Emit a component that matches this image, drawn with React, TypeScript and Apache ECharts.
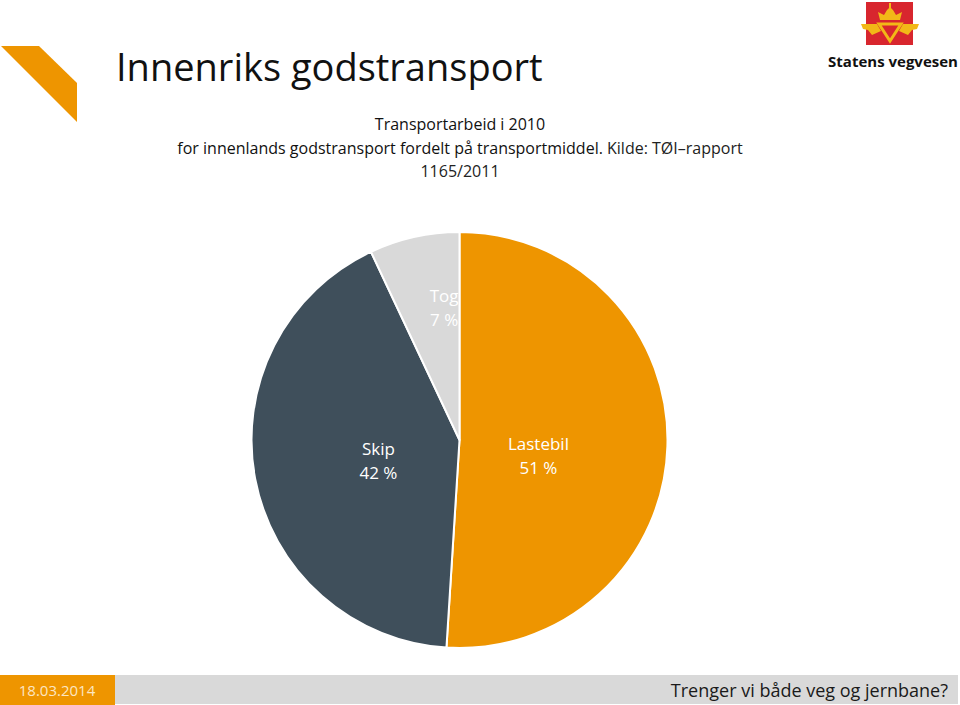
import React, { useEffect, useRef } from "react";
import * as echarts from "echarts";

const categories = ["Lastebil", "Skip", "Tog"];
const shares = [51, 42, 7];
const sliceColors = ["#EE9500", "#3F4F5B", "#D9D9D9"];
const labelOffsets: [number, number][] = [[-28, 12], [24, 0], [8, -28]];

const titleText = "Innenriks godstransport";
const subLine1 = "Transportarbeid i 2010";
const subLine2Bold = "for innenlands godstransport fordelt på transportmiddel.";
const subLine2Rest = " Kilde: TØI–rapport";
const subLine3 = "1165/2011";
const footerDate = "18.03.2014";
const footerText = "Trenger vi både veg og jernbane?";
const brandText = "Statens vegvesen";

const FONT = "'Open Sans', 'DejaVu Sans', sans-serif";

export default function App() {
  const ref = useRef<HTMLDivElement>(null);
  useEffect(() => {
    if (!ref.current) return;
    const chart = echarts.init(ref.current, null, { renderer: "svg" });
    const gold = "#F2B817";
    chart.setOption({
      animation: false,
      backgroundColor: "#ffffff",
      title: [
        {
          text: titleText,
          left: 111,
          top: 42,
          textStyle: { fontFamily: FONT, fontSize: 38, fontWeight: "normal", color: "#111" },
        },
      ],
      graphic: [
        {
          type: "polygon",
          shape: { points: [[1, 46], [39, 46], [77, 83], [77, 122]] },
          style: { fill: "#EE9500" },
        },
        {
          type: "text",
          x: 460,
          y: 124,
          style: {
            text: subLine1,
            fontFamily: FONT,
            fontSize: 16,
            fontWeight: 500,
            fill: "#111",
            align: "center",
            verticalAlign: "middle",
          },
        },
        {
          type: "text",
          x: 460,
          y: 148,
          style: {
            text: "{b|" + subLine2Bold + "}{r|" + subLine2Rest + "}",
            align: "center",
            verticalAlign: "middle",
            rich: {
              b: { fontFamily: FONT, fontSize: 16, fontWeight: 500, fill: "#111" },
              r: { fontFamily: FONT, fontSize: 16, fontWeight: "normal", fill: "#222" },
            },
          },
        },
        {
          type: "text",
          x: 460,
          y: 171,
          style: {
            text: subLine3,
            fontFamily: FONT,
            fontSize: 16,
            fill: "#222",
            align: "center",
            verticalAlign: "middle",
          },
        },
        {
          type: "group",
          children: [
            { type: "rect", shape: { x: 866, y: 2, width: 47, height: 43 }, style: { fill: "#D8262E" } },
            {
              type: "polygon",
              shape: { points: [[880, 20], [878, 12], [884, 15], [887, 10], [890, 7], [893, 10], [896, 15], [902, 12], [900, 20]] },
              style: { fill: gold },
            },
            { type: "rect", shape: { x: 889, y: 3, width: 2, height: 5 }, style: { fill: gold } },
            {
              type: "polygon",
              shape: { points: [[879, 24], [901, 24], [890, 41]] },
              style: { fill: "none", stroke: gold, lineWidth: 3 },
            },
            {
              type: "polygon",
              shape: { points: [[861, 24], [877, 24], [881, 31], [872, 35], [868, 30], [863, 29]] },
              style: { fill: gold },
            },
            {
              type: "polygon",
              shape: { points: [[919, 24], [903, 24], [899, 31], [908, 35], [912, 30], [917, 29]] },
              style: { fill: gold },
            },
          ],
        },
        {
          type: "text",
          x: 893,
          y: 61,
          style: {
            text: brandText,
            fontFamily: FONT,
            fontSize: 15,
            fontWeight: "bold",
            fill: "#111",
            align: "center",
            verticalAlign: "middle",
          },
        },
        { type: "rect", shape: { x: 0, y: 675, width: 115, height: 30 }, style: { fill: "#EE9500" } },
        { type: "rect", shape: { x: 115, y: 675, width: 843, height: 29 }, style: { fill: "#D9D9D9" } },
        {
          type: "text",
          x: 57,
          y: 690,
          style: {
            text: footerDate,
            fontFamily: FONT,
            fontSize: 15,
            fill: "#FCE6C3",
            align: "center",
            verticalAlign: "middle",
          },
        },
        {
          type: "text",
          x: 948,
          y: 690,
          style: {
            text: footerText,
            fontFamily: FONT,
            fontSize: 18,
            fill: "#1a1a1a",
            align: "right",
            verticalAlign: "middle",
          },
        },
      ],
      series: [
        {
          type: "pie",
          center: [459.5, 440],
          radius: 208,
          startAngle: 90,
          clockwise: true,
          silent: true,
          itemStyle: { borderColor: "#ffffff", borderWidth: 2 },
          label: {
            show: true,
            position: "inside",
            color: "#ffffff",
            fontFamily: FONT,
            fontSize: 17,
            lineHeight: 24,
            formatter: (p: any) => p.name + "\n" + p.value + " %",
          },
          labelLine: { show: false },
          data: categories.map((name, i) => ({
            name,
            value: shares[i],
            itemStyle: { color: sliceColors[i] },
            label: { offset: labelOffsets[i] },
          })),
        },
      ],
    });
    return () => chart.dispose();
  }, []);
  return (
    <div
      ref={ref}
      style={{ position: "fixed", left: 0, top: 0, width: 960, height: 705 }}
    />
  );
}
